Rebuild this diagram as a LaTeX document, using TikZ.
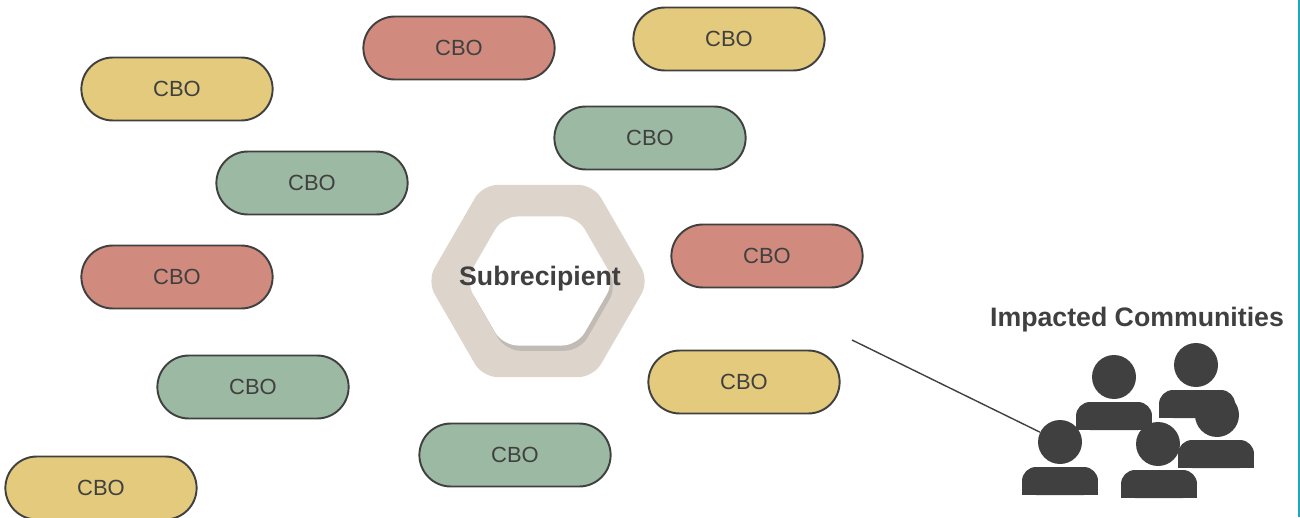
\documentclass[tikz,border=0pt]{standalone}
\usepackage{fontspec}
\setmainfont{Liberation Sans}
\usetikzlibrary{shapes.geometric,shapes.misc,shadows}
\definecolor{cboyellow}{HTML}{E3CA7C}
\definecolor{cbored}{HTML}{D08B7E}
\definecolor{cbogreen}{HTML}{9CBAA3}
\definecolor{hexsand}{HTML}{DDD5CC}
\definecolor{inkdark}{HTML}{404040}
\definecolor{edgeteal}{HTML}{20A8B8}
\tikzset{font=\small}
\tikzset{cbo/.style={rounded rectangle, draw=inkdark, line width=1.1pt,
    minimum width=4.06cm, minimum height=1.26cm, text=inkdark,
    font=\fontsize{12.5}{14}\selectfont}}
\tikzset{hexouter/.style={regular polygon, regular polygon sides=6, fill=hexsand,
    minimum size=4.44cm, rounded corners=0.3cm, inner sep=0pt}}
\tikzset{hexinner/.style={regular polygon, regular polygon sides=6, fill=white,
    minimum size=2.98cm, rounded corners=0.3cm, inner sep=0pt,
    drop shadow={opacity=0.3, shadow xshift=1.5pt, shadow yshift=-3pt}}}
\tikzset{head/.style={circle, fill=inkdark, minimum size=0.88cm, inner sep=0pt}}
\tikzset{title/.style={text=inkdark, font=\fontsize{15.2}{18}\selectfont\bfseries}}
\newcommand{\personbody}[2]{%
  \fill[inkdark, rounded corners=8pt] (#1-38,#2) rectangle (#1+38,#2+28);
  \fill[inkdark] (#1-38,#2+14) rectangle (#1+38,#2+28);
}

\begin{document}
\begin{tikzpicture}[x=0.02cm, y=-0.02cm]
  \useasboundingbox (0,0) rectangle (1300,517);
  \draw[edgeteal, line width=0.6pt] (1299,0)--(1299,517);

  % community organisations
  \foreach \px/\py/\col/\nm in {459/48/cbored/cboA, 729/39/cboyellow/cboB,
      177/89/cboyellow/cboC, 650/138/cbogreen/cboD, 312/183/cbogreen/cboE,
      767/256/cbored/cboF, 177/277/cbored/cboG, 253/387/cbogreen/cboH,
      744/382/cboyellow/cboI, 515/455/cbogreen/cboJ, 101/488/cboyellow/cboK}{
    \node[cbo, fill=\col] (\nm) at (\px,\py) {CBO};
  };

  % subrecipient
  \node[hexouter] (hexOut) at (538,281) {};
  \node[hexinner] (hexIn) at (540,281) {};
  \node[title] (sub) at (540,279) {Subrecipient};

  % impacted communities
  \node[title] (impact) at (1137,320) {Impacted Communities};
  \node[head] (headB) at (1114,377) {};
  \personbody{1114}{402}
  \node[head] (headD) at (1196,365) {};
  \personbody{1197}{390}
  \node[head] (headE) at (1217,415) {};
  \personbody{1216}{440}
  \node[head] (headA) at (1060,442) {};
  \personbody{1060}{467}
  \node[head] (headC) at (1158,444) {};
  \personbody{1159}{470}

  \coordinate (lineStart) at (852,340);
  \draw[inkdark, line width=0.8pt] (lineStart)--(headA);
\end{tikzpicture}
\end{document}
